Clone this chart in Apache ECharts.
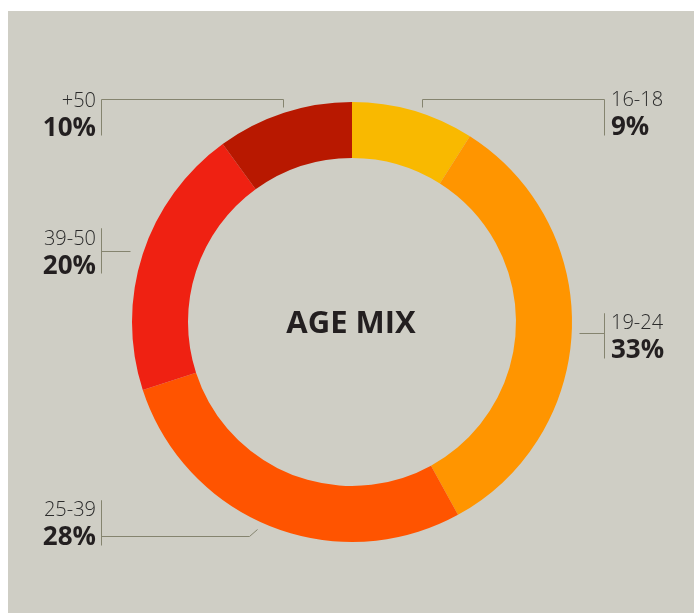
<!DOCTYPE html>
<html>
<head>
<meta charset="utf-8">
<script src="https://cdn.jsdelivr.net/npm/echarts@6/dist/echarts.min.js"></script>
<style>
  html, body { margin: 0; padding: 0; background: #ffffff; width: 694px; height: 613px; overflow: hidden; }
  #chart { position: absolute; left: 8px; top: 11px; width: 686px; height: 602px; }
</style>
</head>
<body>
<div id="chart"></div>
<script>
// ---- data ----
const categories = ['16-18', '19-24', '25-39', '39-50', '+50'];
const shares = [9, 33, 28, 20, 10];
const sliceColors = ['#f9b900', '#ff9500', '#ff5400', '#ef2112', '#b81800'];
const titleText = 'AGE MIX';

// ---- label layout (page coordinates; converted to chart coordinates) ----
const OX = 8, OY = 11;
const labelSpec = [
  { tx: 611, ty: 114.5, align: 'left',  pts: [[422, 107], [422, 99], [604, 99], [604, 135]] },
  { tx: 611, ty: 337.5, align: 'left',  pts: [[579, 333], [604, 333], [604, 313], [604, 358]] },
  { tx: 96,  ty: 524.5, align: 'right', pts: [[257, 529], [249, 536], [101, 536], [101, 500], [101, 545]] },
  { tx: 96,  ty: 253.5, align: 'right', pts: [[130, 251], [101, 251], [101, 228], [101, 273]] },
  { tx: 96,  ty: 115.5, align: 'right', pts: [[283, 107], [283, 99], [101, 99], [101, 135]] }
];

const chart = echarts.init(document.getElementById('chart'), null, { renderer: 'canvas' });
chart.setOption({
  backgroundColor: '#cfcec5',
  animation: false,
  title: {
    text: titleText,
    left: 'center',
    top: 293,
    textStyle: { fontFamily: 'Open Sans', fontWeight: 'bold', fontSize: 31, color: '#231f20' }
  },
  series: [{
    type: 'pie',
    center: [344, 311],
    radius: [164, 220],
    startAngle: 90,
    clockwise: true,
    silent: true,
    data: categories.map((c, i) => ({ name: c, value: shares[i], itemStyle: { color: sliceColors[i] } })),
    label: {
      show: true,
      position: 'outside',
      formatter: p => '{n|' + p.name + '}\n{v|' + p.value + '%}',
      rich: {
        n: { fontFamily: 'Open Sans', fontWeight: 300, fontSize: 20, lineHeight: 26, color: '#2b2b2b' },
        v: { fontFamily: 'Open Sans', fontWeight: 'bold', fontSize: 26, lineHeight: 28, color: '#231f20' }
      }
    },
    labelLine: {
      show: true,
      smooth: false,
      lineStyle: { color: '#85846f', width: 1 }
    },
    labelLayout: function (p) {
      const s = labelSpec[p.dataIndex];
      return {
        x: s.tx - OX,
        y: s.ty - OY,
        align: s.align,
        verticalAlign: 'middle',
        labelLinePoints: s.pts.map(q => [q[0] - OX + 0.5, q[1] - OY + 0.5])
      };
    }
  }]
});
</script>
</body>
</html>
